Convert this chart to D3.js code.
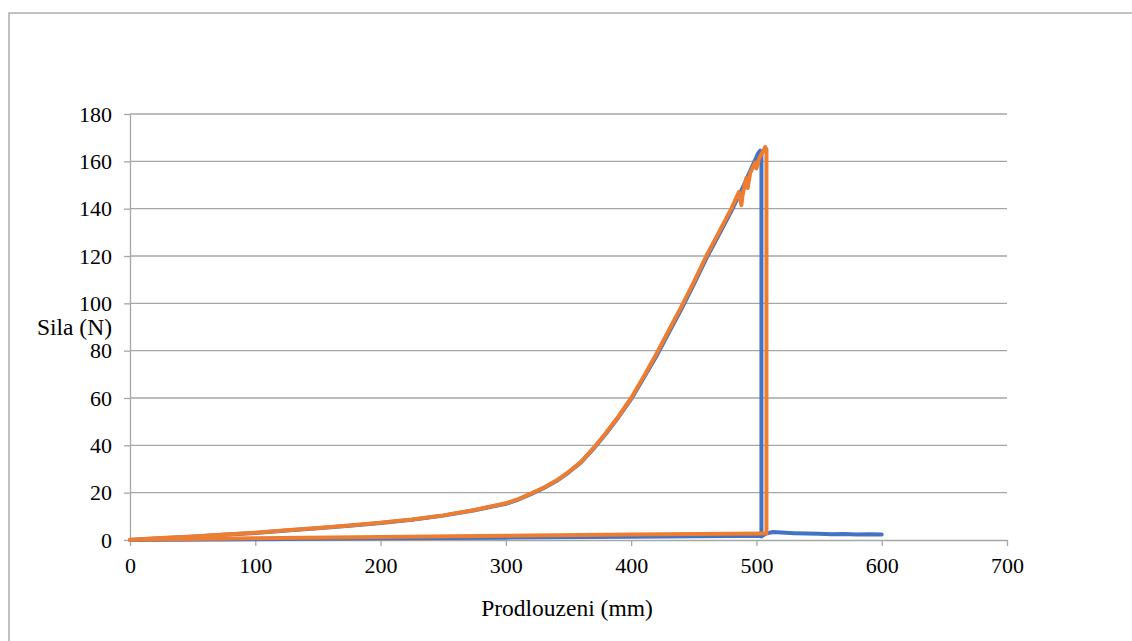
<!DOCTYPE html>
<html>
<meta charset="utf-8">
<style>
body { margin: 0; background: #fff; }
text { font-family: "Liberation Serif", "Times New Roman", serif; fill: #000; }
.grid line { stroke: #a6a6a6; stroke-width: 1.3; }
.axis path, .axis line { stroke: #a6a6a6; stroke-width: 1.3; }
.line { fill: none; stroke-width: 4; stroke-linejoin: round; stroke-linecap: round; }
</style>
<body>
<svg width="1132" height="641"></svg>
<script src="https://d3js.org/d3.v7.min.js"></script>
<script>
// blue run: tail (600 -> 505), return line to 0, loading curve, break
var blueX = [600, 590, 580, 570, 560, 550, 540, 530, 520, 513, 507, 505, 400, 300, 200, 100, 0,
             0, 25, 50, 75, 100, 125, 150, 175, 200, 225, 250, 275, 300, 310, 320, 330, 340, 350, 360, 370, 380, 390, 400,
             410, 420, 430, 440, 450, 460, 470, 480, 490, 498, 501, 503, 504, 504];
var blueY = [2.3, 2.4, 2.3, 2.5, 2.4, 2.6, 2.7, 2.9, 3.2, 3.4, 2.6, 1.8, 1.4, 1.0, 0.7, 0.35, 0,
             0, 0.7, 1.4, 2.2, 3.0, 4.0, 5.0, 6.0, 7.2, 8.6, 10.3, 12.6, 15.3, 17.1, 19.4, 21.9, 24.8, 28.5, 32.8, 38.6, 45, 52, 59.5,
             68.5, 77.5, 87.5, 97.5, 108, 119, 129, 139, 150, 159.5, 163, 164.5, 163, 1.5];

// orange run: return line, loading curve with drops near the top, break
var orangeX = [508, 400, 300, 200, 100, 0,
               0, 25, 50, 75, 100, 125, 150, 175, 200, 225, 250, 275, 300, 310, 320, 330, 340, 350, 360, 370, 380, 390, 400,
               410, 420, 430, 440, 450, 460, 470, 480, 486, 488, 489, 492, 493, 495, 499, 500, 502, 505, 507, 508, 508];
var orangeY = [2.8, 2.3, 1.8, 1.3, 0.7, 0.1,
               0.1, 0.8, 1.5, 2.3, 3.1, 4.1, 5.1, 6.1, 7.3, 8.7, 10.4, 12.7, 15.5, 17.3, 19.6, 22.1, 25, 28.7, 33, 38.9, 45.3, 52.3, 60,
               69, 78.5, 88.5, 98.5, 109, 120, 130, 140, 147, 141.5, 146, 153, 148.7, 155, 159.5, 157, 161, 164, 166, 165, 3];

var xTicks = [0, 100, 200, 300, 400, 500, 600, 700];
var yTicks = [0, 20, 40, 60, 80, 100, 120, 140, 160, 180];

function plotGraph() {
  var svg = d3.select("svg"),
      margin = {top: 114, left: 130},
      width = 877,
      height = 426;

  // outer chart frame (right and bottom edges fall outside the picture)
  svg.append("rect")
      .attr("x", 9).attr("y", 13)
      .attr("width", 1140).attr("height", 650)
      .attr("fill", "none")
      .attr("stroke", "#a0a0a0")
      .attr("stroke-width", 1.3);

  var x = d3.scaleLinear().domain([0, 700]).range([0, width]),
      y = d3.scaleLinear().domain([0, 180]).range([height, 0]);

  var g = svg.append("g")
      .attr("transform", "translate(" + margin.left + "," + margin.top + ")");

  g.append("g")
      .attr("class", "grid")
    .selectAll("line")
    .data(yTicks.filter(function(d) { return d > 0; }))
    .enter().append("line")
      .attr("x1", 0).attr("x2", width)
      .attr("y1", function(d) { return y(d); })
      .attr("y2", function(d) { return y(d); });

  var ax = g.append("g")
      .attr("class", "axis axis--x")
      .attr("transform", "translate(0," + height + ")")
      .call(d3.axisBottom(x).tickValues(xTicks).tickSize(6).tickPadding(11).tickSizeOuter(0));
  ax.selectAll("text").style("font-size", "22px");

  var ay = g.append("g")
      .attr("class", "axis axis--y")
      .call(d3.axisLeft(y).tickValues(yTicks).tickSize(6).tickPadding(12).tickSizeOuter(0));
  ay.selectAll("text").style("font-size", "22px");

  var line = d3.line()
      .x(function(d) { return x(d[0]); })
      .y(function(d) { return y(d[1]); });

  g.append("path")
      .datum(d3.zip(blueX, blueY))
      .attr("class", "line")
      .attr("stroke", "#4472c4")
      .attr("d", line);

  g.append("path")
      .datum(d3.zip(orangeX, orangeY))
      .attr("class", "line")
      .attr("stroke", "#ed7d31")
      .attr("d", line);

  svg.append("text")
      .attr("x", 567)
      .attr("y", 616)
      .attr("text-anchor", "middle")
      .style("font-size", "23.5px")
      .text("Prodlouzeni (mm)");

  svg.append("text")
      .attr("x", 112)
      .attr("y", 335)
      .attr("text-anchor", "end")
      .style("font-size", "23.5px")
      .text("Sila (N)");
}
plotGraph();
</script>
</body>
</html>
